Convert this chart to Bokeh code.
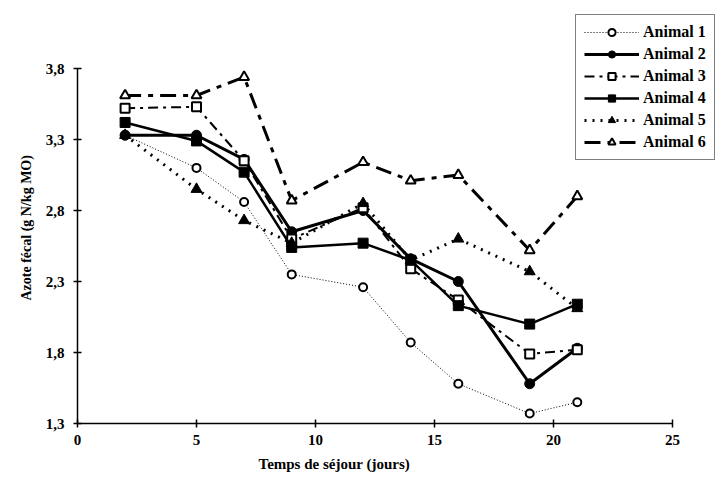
from bokeh.plotting import figure
from bokeh.models import Range1d, FixedTicker, Legend, LegendItem, Title
from bokeh.embed import file_html
from bokeh.resources import INLINE

days = [2, 5, 7, 9, 12, 14, 16, 19, 21]
animal1 = [3.33, 3.10, 2.86, 2.35, 2.26, 1.87, 1.58, 1.37, 1.45]
animal2 = [3.33, 3.33, 3.16, 2.65, 2.80, 2.46, 2.30, 1.58, 1.83]
animal3 = [3.52, 3.53, 3.15, 2.60, 2.82, 2.39, 2.17, 1.79, 1.82]
animal4 = [3.42, 3.29, 3.07, 2.54, 2.57, 2.45, 2.13, 2.00, 2.14]
animal5 = [3.33, 2.95, 2.73, 2.57, 2.85, 2.45, 2.60, 2.37, 2.11]
animal6 = [3.61, 3.61, 3.74, 2.87, 3.14, 3.01, 3.05, 2.52, 2.90]
labels = ["Animal 1", "Animal 2", "Animal 3", "Animal 4", "Animal 5", "Animal 6"]
x_ticks = [0, 5, 10, 15, 20, 25]
y_ticks = [1.3, 1.8, 2.3, 2.8, 3.3, 3.8]
y_tick_labels = ["1,3", "1,8", "2,3", "2,8", "3,3", "3,8"]
x_title = "Temps de séjour (jours)"
y_title = "Azote fécal (g N/kg MO)"
x_lo, x_hi = 0, 25
y_lo, y_hi = 1.3, 3.8

FONT = "Liberation Serif"

# Layout (pixels): axis box from x=77 to 672 and y=68 to 423 in a 717x481 page.
# The frame is extended to the top and right edges so the legend can sit there.
W, H = 717, 481
left, right_axis_px, top_axis_px, bottom = 77, 672, 68, 58
frame_w = W - left
frame_h = H - bottom
x_end = x_lo + (x_hi - x_lo) * frame_w / (right_axis_px - left)
y_end = y_lo + (y_hi - y_lo) * frame_h / (frame_h - top_axis_px)

p = figure(width=W, height=H, output_backend="svg", toolbar_location=None,
           x_range=Range1d(x_lo, x_end), y_range=Range1d(y_lo, y_end),
           min_border_left=left, min_border_right=0, min_border_top=0,
           min_border_bottom=bottom)
p.outline_line_color = None
p.xgrid.visible = False
p.ygrid.visible = False
p.background_fill_color = "white"
p.border_fill_color = "white"

for ax in (p.xaxis[0], p.yaxis[0]):
    ax.axis_line_color = "black"
    ax.axis_line_width = 1.5
    ax.major_tick_line_color = "black"
    ax.major_tick_line_width = 1.5
    ax.major_tick_in = 4
    ax.major_tick_out = 4
    ax.minor_tick_line_color = None
    ax.major_label_text_font = FONT
    ax.major_label_text_font_style = "bold"
    ax.major_label_text_font_size = "15px"
    ax.major_label_text_color = "black"

p.xaxis[0].ticker = FixedTicker(ticks=x_ticks)
p.yaxis[0].ticker = FixedTicker(ticks=y_ticks)
p.xaxis[0].bounds = (x_lo, x_hi)
p.yaxis[0].bounds = (y_lo, y_hi)
p.yaxis[0].major_label_overrides = {t: l for t, l in zip(y_ticks, y_tick_labels)}
p.xaxis[0].major_label_standoff = 7
p.yaxis[0].major_label_standoff = 9

p.add_layout(Title(text=x_title, align="left", offset=181, text_font=FONT,
                   text_font_style="bold", text_font_size="15px", text_color="black",
                   standoff=12), "below")
p.add_layout(Title(text=y_title, align="left", offset=123, text_font=FONT,
                   text_font_style="bold", text_font_size="14px", text_color="black",
                   standoff=18), "left")

series = [animal1, animal2, animal3, animal4, animal5, animal6]
styles = [
    dict(lw=1, dash="1 2", marker="circle", size=8, fill="white", mlw=2),
    dict(lw=3, dash="solid", marker="circle", size=10, fill="black", mlw=1),
    dict(lw=2, dash="10 5 3 5", marker="square", size=9, fill="white", mlw=2),
    dict(lw=2.5, dash="solid", marker="square", size=10, fill="black", mlw=1),
    dict(lw=3, dash="2 6", marker="triangle", size=11, fill="black", mlw=1),
    dict(lw=3, dash="16 7 5 7", marker="triangle", size=10, fill="white", mlw=2),
]

items = []
for lab, ys, st in zip(labels, series, styles):
    lr = p.line(days, ys, line_color="black", line_width=st["lw"], line_dash=st["dash"])
    sr = p.scatter(days, ys, marker=st["marker"], size=st["size"], fill_color=st["fill"],
                   line_color="black", line_width=st["mlw"])
    items.append(LegendItem(label=lab, renderers=[lr, sr]))

legend = Legend(items=items, location=(575 - left, frame_h - 160), border_line_color="black",
                border_line_width=1.2, background_fill_color="white", background_fill_alpha=1,
                label_text_font=FONT, label_text_font_style="bold", label_text_font_size="16px",
                label_text_color="black", glyph_width=55, glyph_height=18,
                spacing=4, padding=8, margin=0, label_standoff=4)
p.add_layout(legend, "center")

open("out.html", "w").write(file_html(p, INLINE))
